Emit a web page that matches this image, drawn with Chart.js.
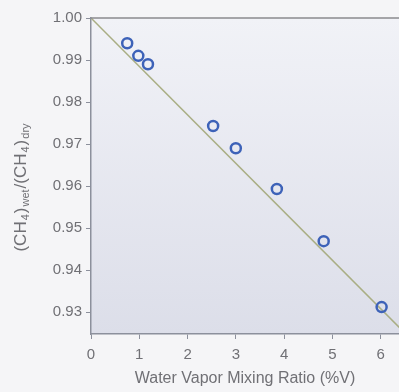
<!DOCTYPE html>
<html>
<head>
<meta charset="utf-8">
<script src="https://cdn.jsdelivr.net/npm/chart.js@4.4.1/dist/chart.umd.min.js"></script>
<style>
  html, body { margin: 0; padding: 0; background: #f5f5f7; }
  #wrap { width: 399px; height: 392px; }
</style>
</head>
<body>
<div id="wrap"><canvas id="chart" width="399" height="392"></canvas></div>
<script>
// measured points
const mixingRatio = [0.75, 0.98, 1.18, 2.53, 3.0, 3.85, 4.82, 6.02];
const ratioWetDry = [0.9940, 0.9910, 0.9890, 0.9743, 0.9690, 0.9593, 0.9469, 0.9312];

// fitted line end points
const fitX = [0, 6.4];
const fitY = [1.0, 0.9262];

const xTicks = [0, 1, 2, 3, 4, 5, 6];
const yTicks = [0.93, 0.94, 0.95, 0.96, 0.97, 0.98, 0.99, 1.00];

const tickColor = '#707075';
const axisColor = '#8c909c';
const fontFamily = '"Liberation Sans", Arial, sans-serif';

const plotBackground = {
    id: 'plotBackground',
    beforeDraw(chart) {
        const { ctx, chartArea: a } = chart;
        const g = ctx.createLinearGradient(0, a.top, 0, a.bottom);
        g.addColorStop(0, '#f1f2f7');
        g.addColorStop(1, '#dcdee9');
        ctx.save();
        ctx.fillStyle = g;
        ctx.fillRect(a.left, a.top, a.right - a.left, a.bottom - a.top);
        ctx.restore();
    },
    afterDraw(chart) {
        const { ctx, chartArea: a } = chart;
        ctx.save();
        // top frame line
        ctx.strokeStyle = '#8a8a8e';
        ctx.lineWidth = 1.5;
        ctx.beginPath();
        ctx.moveTo(a.left, a.top);
        ctx.lineTo(a.right, a.top);
        ctx.stroke();

        // y title with subscripts
        ctx.translate(21, 187);
        ctx.rotate(-Math.PI / 2);
        ctx.fillStyle = tickColor;
        ctx.textBaseline = 'middle';
        const big = '17px ' + fontFamily;
        const small = '11px ' + fontFamily;
        const parts = [
            ['(CH', big, 0], ['4', small, 5], [')', big, 0], ['wet', small, 5],
            ['/(CH', big, 0], ['4', small, 5], [')', big, 0], ['dry', small, 5]
        ];
        let total = 0;
        parts.forEach(p => { ctx.font = p[1]; total += ctx.measureText(p[0]).width + 1; });
        let x = -total / 2;
        parts.forEach(p => {
            ctx.font = p[1];
            ctx.fillText(p[0], x, p[2]);
            x += ctx.measureText(p[0]).width + 1;
        });
        ctx.restore();
    }
};

const ctx = document.getElementById('chart').getContext('2d');
new Chart(ctx, {
    type: 'scatter',
    data: {
        datasets: [
            {
                type: 'line',
                data: fitX.map((x, i) => ({ x: x, y: fitY[i] })),
                borderColor: '#a9ae84',
                borderWidth: 1.5,
                pointRadius: 0,
                fill: false,
                order: 2
            },
            {
                data: mixingRatio.map((x, i) => ({ x: x, y: ratioWetDry[i] })),
                pointRadius: 5,
                pointBorderWidth: 2.5,
                pointBorderColor: '#3d62b8',
                pointBackgroundColor: 'rgba(0,0,0,0)',
                order: 1
            }
        ]
    },
    options: {
        responsive: false,
        animation: false,
        events: [],
        layout: { autoPadding: false, padding: { top: 18, right: 0, left: 0, bottom: 0 } },
        plugins: { legend: { display: false }, tooltip: { enabled: false } },
        scales: {
            x: {
                type: 'linear',
                min: 0,
                max: 6.38,
                afterBuildTicks: scale => { scale.ticks = xTicks.map(v => ({ value: v })); },
                afterFit: scale => {
                    scale.height = 58;
                    scale.paddingLeft = 0;
                    scale.paddingRight = 0;
                },
                grid: { drawOnChartArea: false, drawTicks: true, tickLength: 5, color: axisColor },
                border: { display: true, color: axisColor, width: 1.5 },
                ticks: {
                    color: tickColor,
                    padding: 7,
                    font: { family: fontFamily, size: 15 }
                },
                title: {
                    display: true,
                    text: 'Water Vapor Mixing Ratio (%V)',
                    color: tickColor,
                    padding: { top: 1 },
                    font: { family: fontFamily, size: 16 }
                }
            },
            y: {
                type: 'linear',
                min: 0.9248,
                max: 1.0,
                afterBuildTicks: scale => { scale.ticks = yTicks.map(v => ({ value: v })); },
                afterFit: scale => { scale.width = 91; },
                grid: { drawOnChartArea: false, drawTicks: true, tickLength: 5, color: axisColor },
                border: { display: true, color: axisColor, width: 1.5 },
                ticks: {
                    color: tickColor,
                    padding: 4,
                    callback: v => v.toFixed(2),
                    font: { family: fontFamily, size: 15 }
                }
            }
        }
    },
    plugins: [plotBackground]
});
</script>
</body>
</html>
